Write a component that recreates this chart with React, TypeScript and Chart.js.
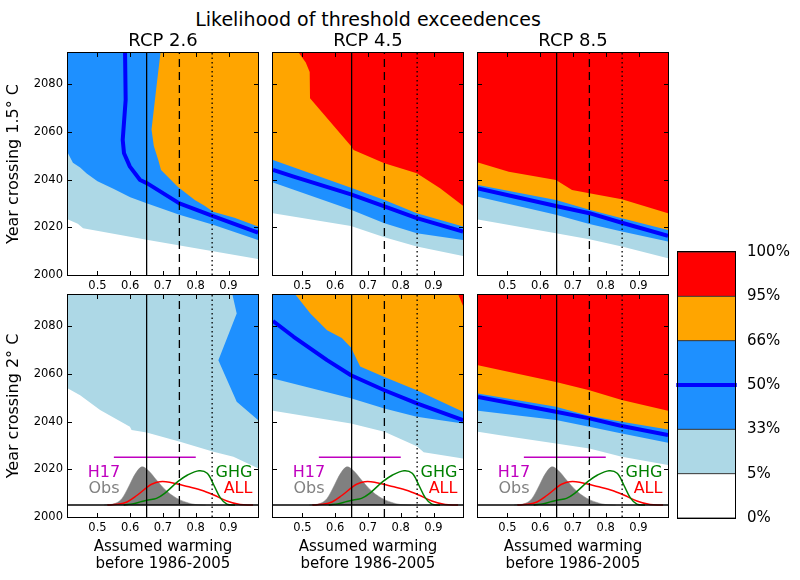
import React, { useEffect, useRef } from 'react';
import { Chart, registerables } from 'chart.js';

Chart.register(...registerables);

type Pt = [number, number];

const FONT = 'DejaVu Sans';
Chart.defaults.font.family = FONT;
Chart.defaults.color = '#000';

// ---------- axes ----------
const X_MIN = 0.41;
const X_MAX = 0.99;
const Y_MIN = 2000;
const Y_MAX = 2093;
const X_TICKS = [0.5, 0.6, 0.7, 0.8, 0.9];
const Y_TICKS = [2000, 2020, 2040, 2060, 2080];

const SUPTITLE = 'Likelihood of threshold exceedences';
const SCENARIOS = ['RCP 2.6', 'RCP 4.5', 'RCP 8.5'];
const THRESHOLD_LABELS = ['Year crossing 1.5° C', 'Year crossing 2° C'];
const X_TITLE = ['Assumed warming', 'before 1986-2005'];

// reference warming levels: solid, dashed, dotted
const REF_WARMING = [0.65, 0.75, 0.85];

// ---------- likelihood boundaries [warming, year] ----------
// RCP 2.6, 1.5 C
const R26_15_P5: Pt[] = [[0.41, 2023.3], [0.44, 2021.5], [0.456, 2019.6], [0.65, 2014.8], [0.99, 2006.7]];
const R26_15_P33: Pt[] = [[0.41, 2051], [0.425, 2047], [0.447, 2045], [0.467, 2042.5], [0.5, 2039.3], [0.55, 2036], [0.6, 2032.6], [0.652, 2030], [0.75, 2025.2], [0.853, 2021], [0.99, 2014.7]];
const R26_15_P50: Pt[] = [[0.584, 2095], [0.586, 2073.4], [0.577, 2056.6], [0.581, 2051], [0.599, 2045.4], [0.63, 2039.8], [0.652, 2038.4], [0.75, 2030], [0.853, 2024.7], [0.99, 2017.7]];
const R26_15_P66: Pt[] = [[0.694, 2095], [0.681, 2080], [0.665, 2061], [0.672, 2054], [0.686, 2048], [0.694, 2044], [0.745, 2037], [0.797, 2031.4], [0.827, 2029], [0.853, 2026.5], [0.918, 2024], [0.99, 2020.3]];

// RCP 4.5, 1.5 C
const R45_15_P5: Pt[] = [[0.41, 2025.9], [0.648, 2020.5], [0.75, 2015.8], [0.849, 2011.9], [0.99, 2008]];
const R45_15_P33: Pt[] = [[0.41, 2038.7], [0.648, 2027.3], [0.75, 2021.7], [0.849, 2017.5], [0.99, 2014.7]];
const R45_15_P50: Pt[] = [[0.41, 2044], [0.473, 2041.2], [0.648, 2033.8], [0.75, 2028.7], [0.849, 2023.8], [0.99, 2018.2]];
const R45_15_P66: Pt[] = [[0.41, 2048.2], [0.648, 2036.6], [0.75, 2031.4], [0.849, 2025.9], [0.99, 2020.3]];
const R45_15_P95: Pt[] = [[0.479, 2095], [0.51, 2089], [0.522, 2085], [0.523, 2074], [0.648, 2054], [0.656, 2052.4], [0.75, 2046.8], [0.849, 2042.6], [0.92, 2036.3], [0.99, 2029]];

// RCP 8.5, 1.5 C
const R85_15_P5: Pt[] = [[0.41, 2023.3], [0.648, 2017.5], [0.75, 2015], [0.849, 2011.9], [0.99, 2007]];
const R85_15_P33: Pt[] = [[0.41, 2032.8], [0.648, 2025.2], [0.75, 2021.4], [0.849, 2018.2], [0.99, 2014]];
const R85_15_P50: Pt[] = [[0.41, 2036.3], [0.648, 2028.9], [0.75, 2025.9], [0.849, 2021.9], [0.99, 2016.4]];
const R85_15_P66: Pt[] = [[0.41, 2037.7], [0.648, 2031.4], [0.75, 2027.3], [0.849, 2023.8], [0.99, 2018.9]];
const R85_15_P95: Pt[] = [[0.41, 2047.1], [0.504, 2043.3], [0.648, 2039.8], [0.697, 2035.6], [0.75, 2034.2], [0.849, 2031.7], [0.99, 2025.9]];

// RCP 2.6, 2 C
const R26_20_P5: Pt[] = [[0.41, 2053.8], [0.447, 2051], [0.508, 2044.8], [0.599, 2037.8], [0.604, 2036.4], [0.65, 2035.4], [0.752, 2031.5], [0.854, 2027.3], [0.915, 2025.2], [0.99, 2020.4]];
const R26_20_P33: Pt[] = [[0.909, 2095], [0.925, 2085.2], [0.869, 2065.7], [0.925, 2048.3], [0.99, 2040.6]];

// RCP 4.5, 2 C
const R45_20_P5: Pt[] = [[0.41, 2044.5], [0.648, 2039.2], [0.75, 2035.7], [0.849, 2029.6], [0.87, 2027.1], [0.99, 2024.5]];
const R45_20_P33: Pt[] = [[0.41, 2058], [0.648, 2049.7], [0.75, 2045.5], [0.849, 2042], [0.99, 2039.2]];
const R45_20_P50: Pt[] = [[0.41, 2082.1], [0.473, 2075.5], [0.575, 2065.7], [0.648, 2059.4], [0.75, 2053.1], [0.849, 2047.6], [0.99, 2040.6]];
const R45_20_P66: Pt[] = [[0.468, 2095], [0.524, 2085.2], [0.575, 2078.2], [0.62, 2075], [0.648, 2071], [0.676, 2063], [0.75, 2058.7], [0.849, 2053.1], [0.99, 2044.1]];
const R45_20_P95: Pt[] = [[0.97, 2095], [0.99, 2088.5]];

// RCP 8.5, 2 C
const R85_20_P5: Pt[] = [[0.41, 2035.7], [0.473, 2034.3], [0.648, 2030.8], [0.75, 2028.7], [0.849, 2025.2], [0.99, 2021.8]];
const R85_20_P33: Pt[] = [[0.41, 2044.5], [0.648, 2040.6], [0.75, 2037.8], [0.849, 2035], [0.99, 2031.1]];
const R85_20_P50: Pt[] = [[0.41, 2050.3], [0.648, 2044.1], [0.75, 2041.3], [0.849, 2038.1], [0.99, 2034.3]];
const R85_20_P66: Pt[] = [[0.41, 2051.7], [0.648, 2046.2], [0.75, 2042.3], [0.849, 2039.9], [0.99, 2036.7]];
const R85_20_P95: Pt[] = [[0.41, 2063.6], [0.648, 2056.6], [0.75, 2053.1], [0.849, 2049], [0.99, 2044.5]];

// ---------- warming distributions (drawn on the 2 C panels) ----------
const BASELINE_YEAR = 2005;
const OBS_X = [0.52, 0.55, 0.57, 0.585, 0.6, 0.615, 0.635, 0.655, 0.68, 0.71, 0.74, 0.77, 0.8, 0.83];
const OBS_Y = [2005, 2005.5, 2007, 2010, 2014, 2018, 2021, 2019.5, 2015.5, 2011, 2008, 2006.2, 2005.2, 2005];
const ALL_X = [0.53, 0.56, 0.59, 0.62, 0.65, 0.665, 0.69, 0.72, 0.765, 0.815, 0.855, 0.895, 0.935, 0.975];
const ALL_Y = [2005, 2005.3, 2006.3, 2009, 2012.3, 2013.7, 2014.8, 2014.6, 2013.1, 2011.3, 2009.2, 2006.7, 2005.2, 2005];
const GHG_X = [0.58, 0.61, 0.635, 0.655, 0.68, 0.705, 0.745, 0.775, 0.81, 0.835, 0.855, 0.875, 0.895, 0.92];
const GHG_Y = [2005, 2005.6, 2006.5, 2007.1, 2007.8, 2009.9, 2014.8, 2017.6, 2019.4, 2018.3, 2013.4, 2008, 2005.4, 2005];
const H17_RANGE = [0.55, 0.8];
const H17_YEAR = 2025;
const DIST_LABELS = ['H17', 'Obs', 'GHG', 'ALL'];
const DIST_LABEL_POS: Pt[] = [[0.52, 2018.7], [0.52, 2011.8], [0.973, 2018.7], [0.973, 2011.8]];

// ---------- colour bar ----------
const CB_TICK_LABELS = ['0%', '5%', '33%', '50%', '66%', '95%', '100%'];
const CB_LEVELS = [0, 1, 2, 4, 5, 6];
const CB_MEDIAN_LEVEL = 3;

// ---------- styles ----------
const REGION_KEYS = ['p5', 'p33', 'p66', 'p95'];
const REGION_COLORS = ['#add8e6', '#1e90ff', '#ffa500', '#ff0000'];
const CB_COLORS = ['#ffffff', '#add8e6', '#1e90ff', '#ffa500', '#ff0000'];
const MEDIAN_COLOR = '#0000ff';
const OBS_COLOR = '#808080';
const ALL_COLOR = '#ff0000';
const GHG_COLOR = '#008000';
const H17_COLOR = '#bf00bf';
const DIST_LABEL_COLORS = [H17_COLOR, OBS_COLOR, GHG_COLOR, ALL_COLOR];
const DIST_LABEL_ALIGN = ['center', 'center', 'right', 'right'];
const REF_DASH = [[], [8, 5], [1.5, 3]];

interface PanelDef { p5?: Pt[]; p33?: Pt[]; p50?: Pt[]; p66?: Pt[]; p95?: Pt[] }

const PANELS: PanelDef[][] = [
  [
    { p5: R26_15_P5, p33: R26_15_P33, p50: R26_15_P50, p66: R26_15_P66 },
    { p5: R45_15_P5, p33: R45_15_P33, p50: R45_15_P50, p66: R45_15_P66, p95: R45_15_P95 },
    { p5: R85_15_P5, p33: R85_15_P33, p50: R85_15_P50, p66: R85_15_P66, p95: R85_15_P95 },
  ],
  [
    { p5: R26_20_P5, p33: R26_20_P33 },
    { p5: R45_20_P5, p33: R45_20_P33, p50: R45_20_P50, p66: R45_20_P66, p95: R45_20_P95 },
    { p5: R85_20_P5, p33: R85_20_P33, p50: R85_20_P50, p66: R85_20_P66, p95: R85_20_P95 },
  ],
];

const toXY = (pts: Pt[]) => pts.map(([x, y]) => ({ x, y }));
const zip = (xs: number[], ys: number[]) => xs.map((x, i) => ({ x, y: ys[i] }));
const regionShape = (b: Pt[]) => {
  const f = b[0];
  const l = b[b.length - 1];
  return toXY([...b, [l[0] + 0.02, 2100], [f[0] - 0.02, 2100]]);
};

// frame with inward ticks on all four sides
const framePlugin: any = {
  id: 'frame',
  afterDatasetsDraw(chart: any, _args: any, opts: any) {
    const { ctx, chartArea: a } = chart;
    ctx.save();
    ctx.strokeStyle = '#000';
    ctx.lineWidth = 1;
    ctx.strokeRect(a.left - 0.5, a.top - 0.5, a.right - a.left + 1, a.bottom - a.top + 1);
    if (opts && opts.ticks) {
      const xs = chart.scales.x;
      const ys = chart.scales.y;
      ctx.beginPath();
      for (const t of xs.ticks) {
        const px = Math.round(xs.getPixelForValue(t.value)) + 0.5;
        ctx.moveTo(px, a.bottom);
        ctx.lineTo(px, a.bottom - 4);
        ctx.moveTo(px, a.top);
        ctx.lineTo(px, a.top + 4);
      }
      for (const t of ys.ticks) {
        const py = Math.round(ys.getPixelForValue(t.value)) + 0.5;
        ctx.moveTo(a.left, py);
        ctx.lineTo(a.left + 4, py);
        ctx.moveTo(a.right, py);
        ctx.lineTo(a.right - 4, py);
      }
      ctx.stroke();
    }
    ctx.restore();
  },
};

// text labels of the distributions
const distLabelPlugin: any = {
  id: 'distLabels',
  afterDatasetsDraw(chart: any, _args: any, opts: any) {
    if (!opts || !opts.show) return;
    const { ctx } = chart;
    const xs = chart.scales.x;
    const ys = chart.scales.y;
    ctx.save();
    ctx.font = `16px "${FONT}"`;
    ctx.textBaseline = 'middle';
    DIST_LABELS.forEach((txt, i) => {
      ctx.fillStyle = DIST_LABEL_COLORS[i];
      ctx.textAlign = DIST_LABEL_ALIGN[i];
      ctx.fillText(txt, xs.getPixelForValue(DIST_LABEL_POS[i][0]), ys.getPixelForValue(DIST_LABEL_POS[i][1]));
    });
    ctx.restore();
  },
};

function panelConfig(row: number, col: number): any {
  const def: any = PANELS[row][col];
  const datasets: any[] = [];
  REGION_KEYS.forEach((key, i) => {
    const b: Pt[] | undefined = def[key];
    if (!b || !b.length) return;
    datasets.push({
      data: regionShape(b), fill: 'shape', backgroundColor: REGION_COLORS[i],
      borderColor: 'rgba(0,0,0,0)', borderWidth: 0, pointRadius: 0, order: 50 - i,
    });
  });
  if (def.p50) {
    datasets.push({
      data: toXY(def.p50), borderColor: MEDIAN_COLOR, borderWidth: 4, fill: false, pointRadius: 0,
      order: 40, borderJoinStyle: 'round',
    });
  }
  if (row === 1) {
    datasets.push({ data: zip(OBS_X, OBS_Y), fill: { value: BASELINE_YEAR }, backgroundColor: OBS_COLOR, borderColor: OBS_COLOR, borderWidth: 0.5, tension: 0.35, pointRadius: 0, order: 30 });
    datasets.push({ data: zip(ALL_X, ALL_Y), fill: false, borderColor: ALL_COLOR, borderWidth: 1.5, tension: 0.35, pointRadius: 0, order: 29 });
    datasets.push({ data: zip(GHG_X, GHG_Y), fill: false, borderColor: GHG_COLOR, borderWidth: 1.5, tension: 0.35, pointRadius: 0, order: 28 });
    datasets.push({ data: [{ x: H17_RANGE[0], y: H17_YEAR }, { x: H17_RANGE[1], y: H17_YEAR }], fill: false, borderColor: H17_COLOR, borderWidth: 1.5, pointRadius: 0, order: 27 });
    datasets.push({ data: [{ x: X_MIN, y: BASELINE_YEAR }, { x: X_MAX, y: BASELINE_YEAR }], fill: false, borderColor: '#000', borderWidth: 1.5, pointRadius: 0, order: 26 });
  }
  REF_WARMING.forEach((w, i) => {
    datasets.push({
      data: [{ x: w, y: Y_MIN }, { x: w, y: Y_MAX }], fill: false, borderColor: '#000',
      borderWidth: 1.3, borderDash: REF_DASH[i], pointRadius: 0, order: 10 + i,
    });
  });

  return {
    type: 'line',
    data: { datasets },
    plugins: [framePlugin, distLabelPlugin],
    options: {
      animation: false,
      responsive: false,
      maintainAspectRatio: false,
      devicePixelRatio: 1,
      events: [],
      layout: { padding: { left: 0, right: 4, top: row === 0 ? 0 : 15, bottom: 0 }, autoPadding: false },
      plugins: {
        legend: { display: false },
        tooltip: { enabled: false },
        frame: { ticks: true },
        distLabels: { show: row === 1 },
        title: row === 0
          ? { display: true, text: SCENARIOS[col], fullSize: false, color: '#000', font: { family: FONT, size: 18, weight: 'normal', lineHeight: '22px' }, padding: { top: 30, bottom: 1 } }
          : { display: false },
      },
      scales: {
        x: {
          type: 'linear', min: X_MIN, max: X_MAX,
          afterBuildTicks: (s: any) => { s.ticks = X_TICKS.map((v) => ({ value: v })); },
          afterFit: (s: any) => { s.height = row === 0 ? 20 : 63; },
          grid: { display: false, drawTicks: false },
          border: { display: false },
          ticks: { font: { size: 11.5 }, color: '#000', padding: 4, autoSkip: false, maxRotation: 0, callback: (v: any) => Number(v).toFixed(1) },
          title: row === 1
            ? { display: true, text: X_TITLE, color: '#000', font: { size: 15, lineHeight: '17px' }, padding: { top: 0, bottom: 7 } }
            : { display: false },
        },
        y: {
          type: 'linear', min: Y_MIN, max: Y_MAX,
          afterBuildTicks: (s: any) => { s.ticks = Y_TICKS.map((v) => ({ value: v })); },
          afterFit: (s: any) => { s.width = 68; },
          grid: { display: false, drawTicks: false },
          border: { display: false },
          ticks: { display: col === 0, font: { size: 11.5 }, color: '#000', padding: 5, autoSkip: false, callback: (v: any) => String(v) },
          title: col === 0
            ? { display: true, text: THRESHOLD_LABELS[row], color: '#000', font: { size: 16 }, padding: { top: 4.5, bottom: 0 } }
            : { display: false },
        },
      },
    },
  };
}

function colorbarConfig(): any {
  const datasets: any[] = CB_LEVELS.map((lvl, i) => ({
    data: [{ x: 0, y: lvl }, { x: 1, y: lvl }],
    borderColor: '#333',
    borderWidth: 1,
    fill: i === 0 ? false : '-1',
    backgroundColor: i === 0 ? 'rgba(0,0,0,0)' : CB_COLORS[i - 1],
    pointRadius: 0,
    order: 5,
  }));
  datasets.push({
    data: [{ x: -0.03, y: CB_MEDIAN_LEVEL }, { x: 1.03, y: CB_MEDIAN_LEVEL }],
    borderColor: MEDIAN_COLOR, borderWidth: 4, fill: false, pointRadius: 0, clip: false, order: 0,
  });
  return {
    type: 'line',
    data: { datasets },
    plugins: [framePlugin],
    options: {
      animation: false,
      responsive: false,
      maintainAspectRatio: false,
      devicePixelRatio: 1,
      events: [],
      layout: { padding: { left: 18, top: 12, right: 0, bottom: 22 }, autoPadding: false },
      plugins: { legend: { display: false }, tooltip: { enabled: false }, frame: { ticks: false } },
      scales: {
        x: { type: 'linear', min: 0, max: 1, display: false },
        y: {
          type: 'linear', min: 0, max: 6, position: 'right',
          afterBuildTicks: (s: any) => { s.ticks = CB_TICK_LABELS.map((_, i) => ({ value: i })); },
          afterFit: (s: any) => { s.width = 65; s.paddingTop = 0; s.paddingBottom = 0; },
          grid: { display: false, drawTicks: true, tickLength: 12 },
          border: { display: false },
          ticks: { font: { size: 15 }, color: '#000', padding: 0, autoSkip: false, callback: (v: any) => CB_TICK_LABELS[Number(v)] },
        },
      },
    },
  };
}

function ChartCanvas(props: { left: number; top: number; width: number; height: number; make: () => any }) {
  const ref = useRef<HTMLCanvasElement>(null);
  useEffect(() => {
    const chart = new Chart(ref.current as HTMLCanvasElement, props.make());
    return () => chart.destroy();
  }, []);
  return (
    <canvas
      ref={ref}
      width={props.width}
      height={props.height}
      style={{ position: 'absolute', left: props.left, top: props.top, width: props.width, height: props.height }}
    />
  );
}

export default function App() {
  const panels: any[] = [];
  for (let r = 0; r < 2; r++) {
    for (let c = 0; c < 3; c++) {
      panels.push(
        <ChartCanvas
          key={`p${r}${c}`}
          left={205 * c}
          top={r === 0 ? 0 : 280}
          width={262}
          height={r === 0 ? 295 : 300}
          make={() => panelConfig(r, c)}
        />
      );
    }
  }
  return (
    <div style={{ position: 'absolute', left: 0, top: 0, width: 800, height: 580, background: '#fff', fontFamily: FONT, overflow: 'hidden' }}>
      <div style={{ position: 'absolute', left: 168, top: 8, width: 400, textAlign: 'center', fontSize: 19, lineHeight: '22px', color: '#000', whiteSpace: 'nowrap' }}>
        {SUPTITLE}
      </div>
      {panels}
      <ChartCanvas left={660} top={240} width={140} height={300} make={colorbarConfig} />
    </div>
  );
}
